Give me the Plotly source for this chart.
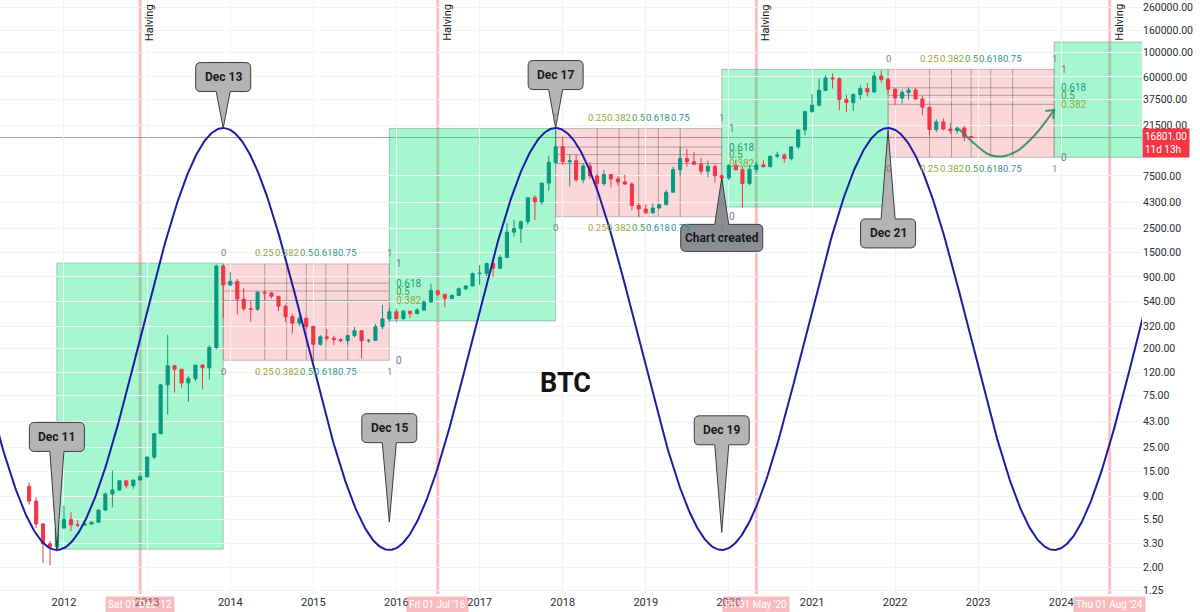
import math
import numpy as np
import pandas as pd
import plotly.graph_objects as go

# ---------------- data ----------------
months = pd.date_range('2011-08-01', '2022-12-01', freq='MS')
opens = [11.0, 8.1, 5.0, 3.3, 3.1,
         4.6, 5.5, 4.9, 4.9, 5.0, 5.2, 6.7, 9.4, 10.2, 12.4, 11.2, 12.6,
         13.5, 20.4, 33.4, 93, 139, 129, 97, 106, 141, 133, 204, 1130,
         760, 818, 564, 460, 455, 650, 640, 598, 485, 390, 340, 377,
         318, 218, 255, 248, 240, 236, 262, 290, 235, 237, 316, 372,
         432, 375, 437, 416, 448, 531, 673, 624, 573, 609, 700, 742,
         963, 970, 1190, 1080, 1350, 2300, 2480, 2870, 4740, 4340, 6450, 9950,
         13850, 10100, 10300, 6920, 9240, 7490, 6390, 7730, 7030, 6620, 6320, 4020,
         3740, 3460, 3830, 4100, 5320, 8570, 10820, 10080, 9600, 8290, 9150, 7540,
         7190, 9350, 8540, 6410, 8620, 9450, 9140, 11350, 11660, 10780, 13800, 19700,
         28990, 33100, 45200, 58800, 57700, 37300, 35000, 41500, 47100, 43800, 61300, 57000,
         46300, 38500, 43200, 45500, 37700, 31800, 19900, 23300, 20050, 19420, 20500, 17170]
highs = [12.0, 8.8, 5.1, 3.5, 4.8,
         7.4, 6.4, 5.4, 5.2, 5.2, 6.8, 9.7, 15.4, 12.5, 12.5, 12.6, 13.9,
         20.6, 33.5, 94, 266, 140, 130, 111, 141, 143, 215, 1163, 1165,
         1000, 860, 710, 550, 670, 680, 660, 600, 500, 415, 460, 385,
         320, 265, 300, 262, 248, 268, 315, 290, 245, 334, 500, 470,
         462, 448, 440, 467, 550, 780, 680, 624, 625, 720, 755, 980,
         1150, 1215, 1300, 1420, 2760, 2980, 2930, 4740, 4980, 6450, 11400, 19700,
         17200, 11800, 11700, 9770, 10000, 7780, 8500, 7760, 7410, 7680, 6570, 4250,
         4140, 4200, 4120, 5600, 9100, 13880, 13200, 12330, 10950, 10350, 9520, 7750,
         9580, 10500, 9200, 9460, 10070, 10400, 11450, 12480, 12070, 14000, 19900, 29300,
         41950, 58350, 61800, 64900, 59600, 41300, 42400, 50500, 52900, 67000, 69000, 59100,
         48000, 45800, 48200, 47400, 40000, 31900, 24700, 25200, 22800, 21100, 21500, 17400]
lows = [7.5, 4.6, 2.2, 2.1, 2.8,
        4.5, 4.3, 4.7, 4.8, 4.9, 5.2, 6.6, 7.1, 10.2, 10.6, 10.5, 12.5,
        13.2, 19.5, 33, 50, 79, 88, 65, 101, 85, 104, 196, 380,
        740, 410, 440, 350, 440, 550, 570, 440, 350, 275, 318, 300,
        152, 212, 236, 215, 226, 217, 253, 162, 225, 236, 300, 350,
        350, 365, 380, 413, 440, 520, 600, 475, 567, 605, 680, 740,
        760, 915, 900, 1060, 1340, 2100, 1830, 2700, 2970, 4100, 5500, 10700,
        9400, 6000, 6600, 6430, 7030, 5750, 6070, 5880, 6100, 6200, 3650, 3150,
        3350, 3390, 3730, 4060, 5310, 7460, 9100, 9350, 7730, 7300, 6520, 6430,
        6860, 8450, 3850, 6150, 8120, 8900, 8990, 10950, 9900, 10400, 13200, 17600,
        28200, 32300, 45000, 47000, 30000, 28800, 29300, 37300, 39600, 43300, 53300, 42000,
        32900, 34300, 37200, 37600, 26700, 17600, 18800, 19600, 18150, 18200, 15500, 16750]
closes = [8.1, 5.0, 3.3, 3.1, 4.6,
          5.5, 4.9, 4.9, 5.0, 5.2, 6.7, 9.4, 10.2, 12.4, 11.2, 12.6, 13.5,
          20.4, 33.4, 93, 139, 129, 97, 106, 141, 133, 204, 1130, 760,
          818, 564, 460, 455, 650, 640, 598, 485, 390, 340, 377, 318,
          218, 255, 248, 240, 236, 262, 290, 235, 237, 316, 372, 432,
          375, 437, 416, 448, 531, 673, 624, 573, 609, 700, 742, 963,
          970, 1190, 1080, 1350, 2300, 2480, 2870, 4740, 4340, 6450, 9950, 13850,
          10100, 10300, 6920, 9240, 7490, 6390, 7730, 7030, 6620, 6320, 4020, 3740,
          3460, 3830, 4100, 5320, 8570, 10820, 10080, 9600, 8290, 9150, 7540, 7190,
          9350, 8540, 6410, 8620, 9450, 9140, 11350, 11660, 10780, 13800, 19700, 28990,
          33100, 45200, 58800, 57700, 37300, 35000, 41500, 47100, 43800, 61300, 57000, 46300,
          38500, 43200, 45500, 37700, 31800, 19900, 23300, 20050, 19420, 20500, 17170, 16801]

last_price = 16801
last_price_text = "16801.00<br>11d 13h"

# cycle (sine drawing) extremes
cycle_dates = ['2009-12-01', '2011-12-01', '2013-12-01', '2015-12-01', '2017-12-01',
               '2019-12-01', '2021-12-01', '2023-12-01', '2025-12-01']
cycle_values = [20500, 2.9, 20500, 2.9, 20500, 2.9, 20500, 2.9, 20500]

# green accumulation boxes
green_start = ['2011-12-01', '2015-12-01', '2019-12-01', '2023-12-01']
green_end = ['2013-12-01', '2017-12-01', '2021-12-01', '2025-12-01']
green_low = [2.95, 356, 3900, 11090]
green_high = [1200, 20300, 70400, 125000]

# gann / fib boxes (red)
gann_start = ['2013-12-01', '2017-12-01', '2021-12-01']
gann_end = ['2015-12-01', '2019-12-01', '2023-12-01']
gann_low = [156, 3180, 11090]
gann_high = [1180, 20300, 70400]
time_levels = [0.25, 0.382, 0.5, 0.618, 0.75]
price_levels = [0.382, 0.5, 0.618]
level_text = {0: '0', 0.25: '0.25', 0.382: '0.382', 0.5: '0.5', 0.618: '0.618', 0.75: '0.75', 1: '1'}
level_color = {0: '#787b86', 0.25: '#a8a03a', 0.382: '#8aac3a', 0.5: '#3f9f45', 0.618: '#1f9a80',
               0.75: '#3a8ca0', 1: '#787b86'}

# halvings
halving_dates = ['2012-12-01', '2016-07-01', '2020-05-01', '2024-08-01']
halving_labels = ["Sat 01 Dec '12", "Fri 01 Jul '16", "Fri 01 May '20", "Thu 01 Aug '24"]

# callouts: text, tip date, tip price, box offset (px, + = above), box width
callout_text = ['Dec 11', 'Dec 13', 'Dec 15', 'Dec 17', 'Dec 19', 'Dec 21', 'Chart created']
callout_date = ['2011-12-01', '2013-12-01', '2015-12-01', '2017-12-01', '2019-12-01', '2021-12-01', '2019-12-01']
callout_price = [2.9, 20500, 5.2, 20500, 4.2, 19500, 7200]
callout_dy = [113, 51, 94, 53, 102, -103, -60]
callout_w = [55, 55, 55, 55, 55, 55, 82]

# projected path arrow
arrow_dates = ['2022-10-10', '2022-12-20', '2023-02-20', '2023-04-15', '2023-06-20', '2023-09-10', '2023-12-01']
arrow_values = [20000, 14500, 11700, 11300, 12600, 18000, 30000]

# axis ticks
price_ticks = [1.25, 2, 3.3, 5.5, 9, 15, 25, 43, 75, 120, 200, 320, 540, 900, 1500, 2500,
               4300, 7500, 21500, 37500, 60000, 100000, 160000, 260000]
year_ticks = list(range(2012, 2025))

# ---------------- figure ----------------
FONT = 'Roboto, Arial, sans-serif'
L = math.log10

fig = go.Figure()

# sine curve
cd = pd.to_datetime(cycle_dates)
t = pd.date_range('2011-02-01', '2025-02-01', freq='5D')
lv = []
for d in t:
    i = int(np.searchsorted(cd, d, side='right')) - 1
    a, b = cd[i], cd[i + 1]
    f = (d - a) / (b - a)
    la, lb = L(cycle_values[i]), L(cycle_values[i + 1])
    lv.append(10 ** (la + (lb - la) * (1 - math.cos(math.pi * f)) / 2))
fig.add_trace(go.Scatter(x=t, y=lv, mode='lines', line=dict(color='#1c1ca8', width=2),
                         hoverinfo='skip'))

fig.add_trace(go.Candlestick(
    x=months, open=opens, high=highs, low=lows, close=closes,
    increasing=dict(line=dict(color='#089981', width=1), fillcolor='#089981'),
    decreasing=dict(line=dict(color='#f23645', width=1), fillcolor='#f23645'),
    whiskerwidth=0, hoverinfo='skip'))

fig.add_trace(go.Scatter(x=arrow_dates, y=arrow_values, mode='lines', line_shape='spline',
                         line=dict(color='rgba(40,140,80,0.85)', width=2), hoverinfo='skip'))

shapes = []
annotations = []

def ts(x):
    return pd.Timestamp(x).strftime('%Y-%m-%d %H:%M:%S')

for s, e, lo, hi in zip(green_start, green_end, green_low, green_high):
    shapes.append(dict(type='rect', xref='x', yref='y', x0=s, x1=e, y0=lo, y1=hi,
                       fillcolor='rgba(0,230,118,0.35)',
                       line=dict(color='rgba(110,150,120,0.5)', width=1), layer='below'))

lab_font = 9.5
for s, e, lo, hi in zip(gann_start, gann_end, gann_low, gann_high):
    S, E = pd.Timestamp(s), pd.Timestamp(e)
    shapes.append(dict(type='rect', xref='x', yref='y', x0=s, x1=e, y0=lo, y1=hi,
                       fillcolor='rgba(242,54,69,0.2)',
                       line=dict(color='rgba(120,123,134,0.45)', width=1), layer='below'))
    for f in time_levels:
        xf = ts(S + (E - S) * f)
        shapes.append(dict(type='line', xref='x', yref='y', x0=xf, x1=xf, y0=lo, y1=hi,
                           line=dict(color='rgba(110,105,85,0.55)', width=1), layer='below'))
    for f in price_levels:
        yf = lo + f * (hi - lo)
        shapes.append(dict(type='line', xref='x', yref='y', x0=s, x1=e, y0=yf, y1=yf,
                           line=dict(color='rgba(110,105,95,0.55)', width=1), layer='below'))
    # time labels top & bottom
    for f in [0] + time_levels + [1]:
        xf = ts(S + (E - S) * f)
        for yv, sh in ((hi, 11), (lo, -11)):
            annotations.append(dict(x=xf, y=L(yv), xref='x', yref='y', text=level_text[f],
                                    showarrow=False, yshift=sh, xanchor='center', yanchor='middle',
                                    font=dict(size=lab_font, color=level_color[f], family=FONT)))
    # price labels right
    for f in [1] + price_levels[::-1] + [0]:
        yf = lo + f * (hi - lo)
        annotations.append(dict(x=e, y=L(yf), xref='x', yref='y', text=level_text[f],
                                showarrow=False, xshift=5, xanchor='left', yanchor='middle',
                                font=dict(size=10, color=level_color[f], family=FONT)))

# current price line
shapes.append(dict(type='line', xref='paper', yref='y', x0=0, x1=1, y0=last_price, y1=last_price,
                   line=dict(color='rgba(120,123,134,0.7)', width=1), layer='below'))

# halving lines
for d, lab in zip(halving_dates, halving_labels):
    shapes.append(dict(type='line', xref='x', yref='paper', x0=d, x1=d, y0=0, y1=1,
                       line=dict(color='rgba(242,110,115,0.45)', width=3), layer='below'))
    annotations.append(dict(x=d, y=1, xref='x', yref='paper', text='Halving', textangle=-90,
                            showarrow=False, xanchor='left', yanchor='top', xshift=1, yshift=-2,
                            font=dict(size=11, color='#131722', family=FONT)))
    annotations.append(dict(x=d, y=0, xref='x', yref='paper', text=lab, showarrow=False,
                            xanchor='center', yanchor='top', yshift=-2,
                            bgcolor='rgba(242,120,125,0.5)', borderpad=2,
                            font=dict(size=10, color='white', family=FONT)))

# callouts
def callout_path(dy, w, h=29, r=5, pw=7):
    hw = w / 2
    if dy > 0:
        b, tp = dy - h / 2, dy + h / 2
        pts = (f"M 0,0 L {pw},{b} L {hw - r},{b} Q {hw},{b} {hw},{b + r} L {hw},{tp - r} "
               f"Q {hw},{tp} {hw - r},{tp} L {-hw + r},{tp} Q {-hw},{tp} {-hw},{tp - r} "
               f"L {-hw},{b + r} Q {-hw},{b} {-hw + r},{b} L {-pw},{b} Z")
    else:
        tp, b = dy + h / 2, dy - h / 2
        pts = (f"M 0,0 L {pw},{tp} L {hw - r},{tp} Q {hw},{tp} {hw},{tp - r} L {hw},{b + r} "
               f"Q {hw},{b} {hw - r},{b} L {-hw + r},{b} Q {-hw},{b} {-hw},{b + r} "
               f"L {-hw},{tp - r} Q {-hw},{tp} {-hw + r},{tp} L {-pw},{tp} Z")
    return pts

for txt, d, p, dy, w in zip(callout_text, callout_date, callout_price, callout_dy, callout_w):
    dark = txt == 'Chart created'
    shapes.append(dict(type='path', xref='x', yref='y', xsizemode='pixel', ysizemode='pixel',
                       xanchor=d, yanchor=p, path=callout_path(dy, w, h=27 if dark else 29),
                       fillcolor='#8a8d94' if dark else '#b4b4b4',
                       line=dict(color='#3c3c3c', width=1), layer='above'))
    annotations.append(dict(x=d, y=L(p), xref='x', yref='y', text=f'<b>{txt}</b>', showarrow=False,
                            yshift=dy, xanchor='center', yanchor='middle',
                            font=dict(size=12, color='#1a1a1a', family=FONT)))

# arrow head of projected path
shapes.append(dict(type='path', xref='x', yref='y', xsizemode='pixel', ysizemode='pixel',
                   xanchor=arrow_dates[-1], yanchor=arrow_values[-1],
                   path='M -9,-1 L 0,0 L -1,-9', line=dict(color='rgba(40,140,80,0.85)', width=2),
                   layer='above'))

# BTC title
annotations.append(dict(x='2018-01-14', y=L(97), xref='x', yref='y', text='<b>BTC</b>', showarrow=False,
                        font=dict(size=27, color='#111111', family=FONT)))

# last price label
annotations.append(dict(x=1, y=L(last_price), xref='paper', yref='y', text=last_price_text,
                        showarrow=False, xanchor='left', yanchor='middle', xshift=0, yshift=-5,
                        bgcolor='#f23645', borderpad=2, align='left',
                        font=dict(size=10, color='white', family=FONT)))

fig.update_layout(
    width=1200, height=612, margin=dict(l=0, r=58, t=0, b=18),
    plot_bgcolor='white', paper_bgcolor='white', showlegend=False,
    shapes=shapes, annotations=annotations,
    xaxis=dict(range=['2011-03-26', '2024-12-21'], rangeslider=dict(visible=False),
               tickmode='array', tickvals=[f'{y}-01-01' for y in year_ticks],
               ticktext=[str(y) for y in year_ticks], showgrid=True, gridcolor='#f2f3f7',
               zeroline=False, showline=False, ticks='',
               tickfont=dict(size=11, color='#2a2e39', family=FONT)),
    yaxis=dict(type='log', side='right', range=[0.0604, 5.4801], tickmode='array',
               tickvals=price_ticks, ticktext=[f'{v:.2f}' for v in price_ticks],
               showgrid=True, gridcolor='#f2f3f7', zeroline=False, showline=False, ticks='',
               tickfont=dict(size=10.5, color='#2a2e39', family=FONT)),
)

fig.write_html('out.html', config={'displayModeBar': False},
               post_script="document.body.style.margin='0';")
